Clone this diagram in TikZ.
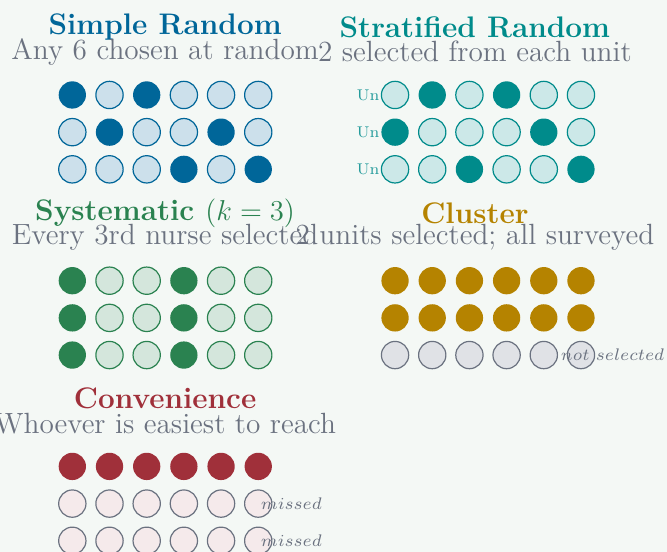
\documentclass[tikz,border=0pt]{standalone}
\usepackage{xcolor}
\usetikzlibrary{positioning}

\definecolor{bgpaper}{RGB}{244,248,245}
\definecolor{simpleblue}{RGB}{0,102,153}
\definecolor{stratteal}{RGB}{0,139,139}
\definecolor{sysgreen}{RGB}{42,130,80}
\definecolor{clustgold}{RGB}{181,131,0}
\definecolor{convred}{RGB}{160,48,58}
\definecolor{notegray}{RGB}{107,114,128}
\definecolor{offgray}{RGB}{224,226,230}

\tikzset{
	dot/.style={circle, minimum size=0.4cm, inner sep=0pt, line width=0.5pt},
	paneltitle/.style={font=\fontsize{12.4}{14}\selectfont\bfseries},
	panelsub/.style={font=\fontsize{12.2}{14}\selectfont, text=notegray},
	sidenote/.style={font=\fontsize{7.5}{9}\selectfont, text=notegray, anchor=base west, inner sep=0pt},
	unitlabel/.style={font=\fontsize{6.5}{7}\selectfont, text=stratteal!85, anchor=east, inner sep=0pt},
}

\begin{document}
	\begin{tikzpicture}
		\fill[bgpaper] (0,0) rectangle (9.776,-8.090);
		\useasboundingbox (0,0) rectangle (9.776,-8.090);
		
		% 简单随机
		\begin{scope}[pk/.style={dot, fill=simpleblue}, nt/.style={dot, draw=simpleblue, fill=simpleblue!20}]
			\node[paneltitle, text=simpleblue] (srtitle) at (2.42,-0.40) {Simple Random};
			\node[panelsub] (srsub) at (2.42,-0.76) {Any 6 chosen at random};
			\foreach \row [count=\r] in {{pk,nt,pk,nt,nt,nt},{nt,pk,nt,nt,pk,nt},{nt,nt,nt,pk,nt,pk}}
				\foreach \st [count=\c] in \row
					\node[\st] (sr\r\c) at ({1.06+0.545*(\c-1)},{-1.392-0.545*(\r-1)}) {};
		\end{scope}
		
		% 分层随机
		\begin{scope}[xshift=4.73cm, pk/.style={dot, fill=stratteal}, nt/.style={dot, draw=stratteal, fill=stratteal!20}]
			\node[paneltitle, text=stratteal] (sttitle) at (2.23,-0.40) {Stratified Random};
			\node[panelsub] (stsub) at (2.23,-0.76) {2 selected from each unit};
			\foreach \row [count=\r] in {{nt,pk,nt,pk,nt,nt},{pk,nt,nt,nt,pk,nt},{nt,nt,pk,nt,nt,pk}}
				\foreach \st [count=\c] in \row
					\node[\st] (st\r\c) at ({1.06+0.545*(\c-1)},{-1.392-0.545*(\r-1)}) {};
			\foreach \r in {1,2,3}
				\node[unitlabel] (stun\r) at ([xshift=-0.22cm]st\r1.center) {Un};
		\end{scope}
		
		% 系统抽样
		\begin{scope}[yshift=-2.722cm, pk/.style={dot, fill=sysgreen}, nt/.style={dot, draw=sysgreen, fill=sysgreen!20}]
			\node[paneltitle, text=sysgreen] (sytitle) at (2.42,-0.40) {Systematic $(k=3)$};
			\node[panelsub] (sysub) at (2.42,-0.76) {Every 3rd nurse selected};
			\foreach \r in {1,2,3}
				\foreach \st [count=\c] in {pk,nt,nt,pk,nt,nt}
					\node[\st] (sy\r\c) at ({1.06+0.545*(\c-1)},{-1.392-0.545*(\r-1)}) {};
		\end{scope}
		
		% 整群抽样
		\begin{scope}[xshift=4.73cm, yshift=-2.722cm, pk/.style={dot, fill=clustgold}, gr/.style={dot, draw=notegray, fill=offgray}]
			\node[paneltitle, text=clustgold] (cltitle) at (2.23,-0.40) {Cluster};
			\node[panelsub] (clsub) at (2.23,-0.76) {2 units selected; all surveyed};
			\foreach \row [count=\r] in {{pk,pk,pk,pk,pk,pk},{pk,pk,pk,pk,pk,pk},{gr,gr,gr,gr,gr,gr}}
				\foreach \st [count=\c] in \row
					\node[\st] (cl\r\c) at ({1.06+0.545*(\c-1)},{-1.392-0.545*(\r-1)}) {};
			\node[sidenote] (clnote) at ([xshift=-0.30cm, yshift=-0.08cm]cl36.center) {$not\ selected$};
		\end{scope}
		
		% 方便抽样
		\begin{scope}[yshift=-5.444cm, pk/.style={dot, fill=convred}, gr/.style={dot, draw=notegray, fill=convred!10}]
			\node[paneltitle, text=convred] (cvtitle) at (2.42,-0.40) {Convenience};
			\node[panelsub] (cvsub) at (2.42,-0.76) {Whoever is easiest to reach};
			\foreach \row [count=\r] in {{pk,pk,pk,pk,pk,pk},{gr,gr,gr,gr,gr,gr},{gr,gr,gr,gr,gr,gr}}
				\foreach \st [count=\c] in \row
					\node[\st] (cv\r\c) at ({1.06+0.545*(\c-1)},{-1.392-0.545*(\r-1)}) {};
			\node[sidenote] (cvnote2) at ([xshift=0.03cm, yshift=-0.09cm]cv26.center) {$missed$};
			\node[sidenote] (cvnote3) at ([xshift=0.03cm, yshift=-0.09cm]cv36.center) {$missed$};
		\end{scope}
	\end{tikzpicture}
\end{document}
